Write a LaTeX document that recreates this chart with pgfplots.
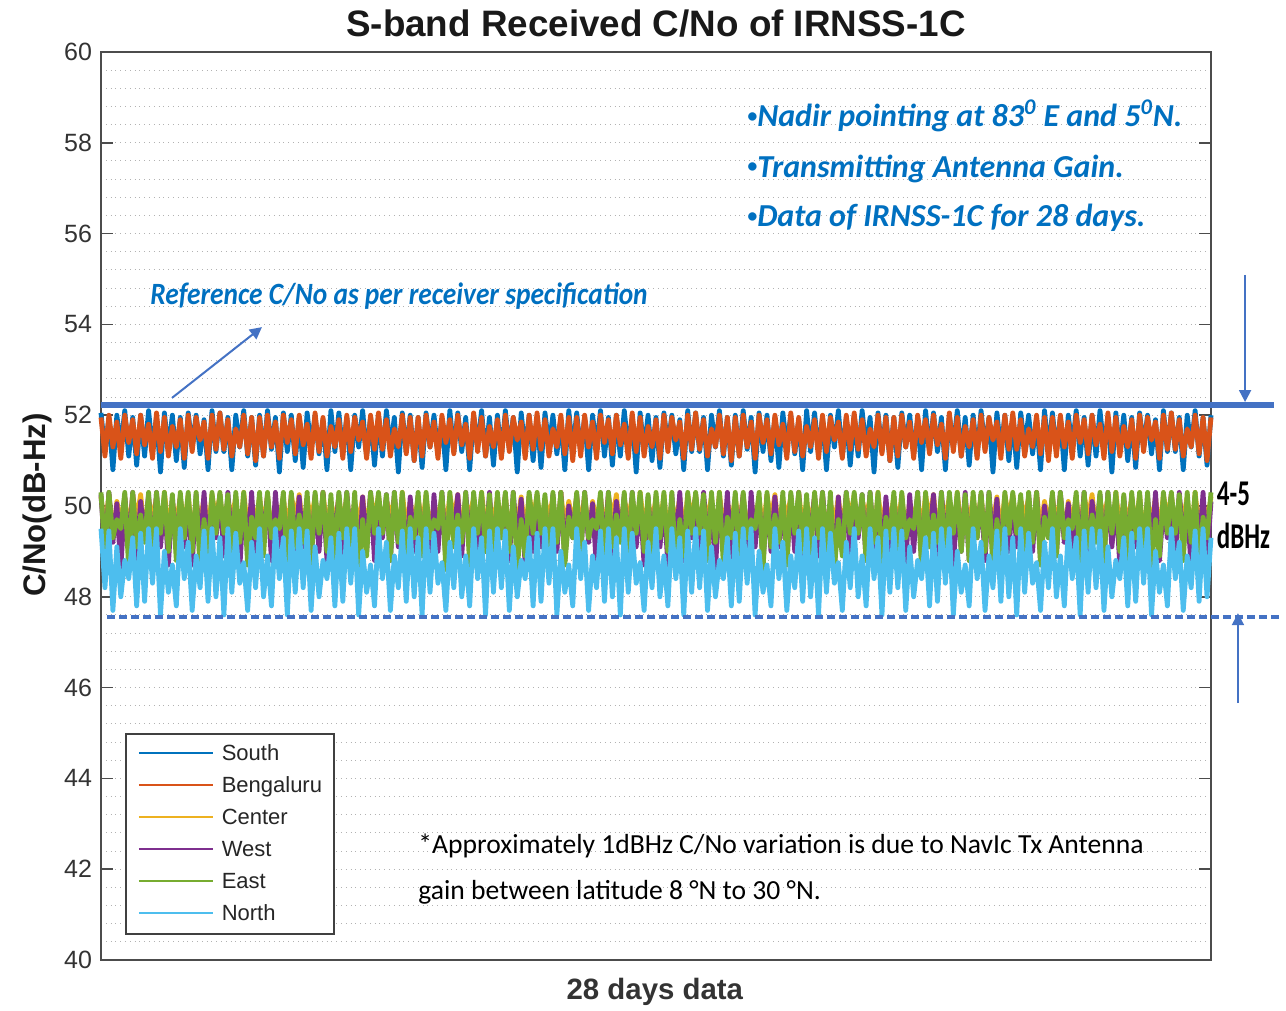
\documentclass[border=0pt]{standalone}
\usepackage{fontspec}
\setmainfont{Liberation Sans}
\newfontfamily\calibri{Carlito}
\usepackage{graphicx}
\usepackage{pgfplots}
\pgfplotsset{compat=1.18}
\usepackage{pgfplotstable}
\usetikzlibrary{arrows.meta}
\definecolor{cS}{HTML}{0072BD}
\definecolor{cB}{HTML}{D95319}
\definecolor{cC}{HTML}{EDB120}
\definecolor{cW}{HTML}{7E2F8E}
\definecolor{cE}{HTML}{77AC30}
\definecolor{cN}{HTML}{4DBEEE}
\definecolor{annblue}{HTML}{0070C0}
\definecolor{arrblue}{HTML}{4472C4}
\newcommand{\sbul}{\raisebox{0.13em}{\scalebox{0.62}{•}}}

\pgfplotstableread{
i S B C W E N
0 52.05 51.95 50.2 50.25 50.3 49.5
1 51.2 51.1 49.5 48.9 48.9 48.2
2 51.95 52.0 50.25 50.3 50.3 49.45
3 50.8 51.3 49.3 49.2 49.3 47.7
4 52.0 51.85 50.1 50.05 49.7 49.1
5 51.3 51.05 49.6 48.6 49.5 48.0
6 52.1 52.0 50.2 50.2 50.3 48.8
7 51.1 51.4 49.4 49.0 48.6 48.4
8 51.95 51.9 50.25 50.3 50.3 49.3
9 50.9 51.15 49.7 48.8 49.1 47.8
10 52.0 52.0 50.25 50.1 49.8 49.4
11 51.1 51.35 49.4 49.3 49.2 47.9
12 52.1 51.8 50.15 50.25 50.3 49.5
13 51.25 51.05 49.7 48.8 48.7 48.3
14 51.95 52.05 50.2 50.3 50.3 49.5
15 50.75 51.2 49.2 49.1 49.4 47.6
16 52.05 51.95 50.3 50.15 50.3 49.0
17 51.2 51.1 49.5 48.7 49.0 48.1
18 52.0 51.75 50.1 50.2 50.25 48.7
19 51.0 51.3 49.6 49.0 48.8 47.8
20 51.95 51.9 50.2 50.2 50.3 49.5
21 50.85 51.05 49.5 49.1 49.3 48.4
22 52.05 52.0 50.25 50.1 50.3 49.2
23 51.3 51.2 49.3 48.7 49.0 47.7
24 52.0 51.95 50.1 50.25 50.3 48.9
25 51.15 51.45 49.6 49.0 48.6 48.2
26 51.9 51.85 50.2 50.3 49.7 49.45
27 50.8 51.05 49.4 48.8 48.9 47.9
28 52.1 52.0 50.25 50.0 50.3 49.5
29 51.2 51.25 49.7 49.3 49.4 48.0
30 52.05 52.05 50.25 50.25 50.3 49.3
31 51.2 51.25 49.4 48.9 49.4 47.6
32 51.95 51.9 50.15 50.3 50.25 49.5
33 50.8 51.1 49.7 49.2 48.8 48.1
34 52.0 51.7 50.2 50.05 50.3 49.4
35 51.3 51.3 49.2 48.6 49.2 48.3
36 52.1 52.0 50.3 50.2 50.3 48.75
37 51.1 51.15 49.5 49.0 48.7 47.7
38 51.95 51.95 50.1 50.3 49.75 49.2
39 50.9 51.0 49.6 48.8 49.3 48.2
40 52.0 51.95 50.2 50.1 50.3 49.5
41 51.1 51.1 49.5 49.3 48.9 48.0
42 52.1 52.0 50.25 50.25 50.3 48.9
43 51.25 51.3 49.3 48.8 49.3 47.8
44 51.95 51.85 50.1 50.3 49.7 49.5
45 50.75 51.05 49.6 49.1 49.5 48.4
46 52.05 52.0 50.2 50.15 50.3 49.3
47 51.2 51.4 49.4 48.7 48.6 47.6
48 52.0 51.9 50.25 50.2 50.3 49.45
49 51.0 51.15 49.7 49.0 49.1 48.1
50 51.95 52.0 50.25 50.2 49.8 49.5
51 50.85 51.35 49.4 49.1 49.2 48.2
52 52.05 51.8 50.15 50.1 50.3 49.45
53 51.3 51.05 49.7 48.7 48.7 47.7
54 52.0 52.05 50.2 50.25 50.3 49.1
55 51.15 51.2 49.2 49.0 49.4 48.0
56 51.9 51.95 50.3 50.3 50.3 48.8
57 50.8 51.1 49.5 48.8 49.0 48.4
58 52.1 51.75 50.1 50.0 50.25 49.3
59 51.2 51.3 49.6 49.3 48.8 47.8
60 52.05 51.9 50.2 50.25 50.3 49.4
61 51.2 51.05 49.5 48.9 49.3 47.9
62 51.95 52.0 50.25 50.3 50.3 49.5
63 50.8 51.2 49.3 49.2 49.0 48.3
64 52.0 51.95 50.1 50.05 50.3 49.5
65 51.3 51.45 49.6 48.6 48.6 47.6
66 52.1 51.85 50.2 50.2 49.7 49.0
67 51.1 51.05 49.4 49.0 48.9 48.1
68 51.95 52.0 50.25 50.3 50.3 48.7
69 50.9 51.25 49.7 48.8 49.4 47.8
70 52.0 52.05 50.25 50.1 50.3 49.5
71 51.1 51.25 49.4 49.3 49.4 48.4
72 52.1 51.9 50.15 50.25 50.25 49.2
73 51.25 51.1 49.7 48.8 48.8 47.7
74 51.95 51.7 50.2 50.3 50.3 48.9
75 50.75 51.3 49.2 49.1 49.2 48.2
76 52.05 52.0 50.3 50.15 50.3 49.45
77 51.2 51.15 49.5 48.7 48.7 47.9
78 52.0 51.95 50.1 50.2 49.75 49.5
79 51.0 51.0 49.6 49.0 49.3 48.0
80 51.95 51.95 50.2 50.2 50.3 49.3
81 50.85 51.1 49.5 49.1 48.9 47.6
82 52.05 52.0 50.25 50.1 50.3 49.5
83 51.3 51.3 49.3 48.7 49.3 48.1
84 52.0 51.85 50.1 50.25 49.7 49.4
85 51.15 51.05 49.6 49.0 49.5 48.3
86 51.9 52.0 50.2 50.3 50.3 48.75
87 50.8 51.4 49.4 48.8 48.6 47.7
88 52.1 51.9 50.25 50.0 50.3 49.2
89 51.2 51.15 49.7 49.3 49.1 48.2
90 52.05 52.0 50.25 50.25 49.8 49.5
91 51.2 51.35 49.4 48.9 49.2 48.0
92 51.95 51.8 50.15 50.3 50.3 48.9
93 50.8 51.05 49.7 49.2 48.7 47.8
94 52.0 52.05 50.2 50.05 50.3 49.5
95 51.3 51.2 49.2 48.6 49.4 48.4
96 52.1 51.95 50.3 50.2 50.3 49.3
97 51.1 51.1 49.5 49.0 49.0 47.6
98 51.95 51.75 50.1 50.3 50.25 49.45
99 50.9 51.3 49.6 48.8 48.8 48.1
100 52.0 51.9 50.2 50.1 50.3 49.5
101 51.1 51.05 49.5 49.3 49.3 48.2
102 52.1 52.0 50.25 50.25 50.3 49.45
103 51.25 51.2 49.3 48.8 49.0 47.7
104 51.95 51.95 50.1 50.3 50.3 49.1
105 50.75 51.45 49.6 49.1 48.6 48.0
106 52.05 51.85 50.2 50.15 49.7 48.8
107 51.2 51.05 49.4 48.7 48.9 48.4
108 52.0 52.0 50.25 50.2 50.3 49.3
109 51.0 51.25 49.7 49.0 49.4 47.8
110 51.95 52.05 50.25 50.2 50.3 49.4
111 50.85 51.25 49.4 49.1 49.4 47.9
112 52.05 51.9 50.15 50.1 50.25 49.5
113 51.3 51.1 49.7 48.7 48.8 48.3
114 52.0 51.7 50.2 50.25 50.3 49.5
115 51.15 51.3 49.2 49.0 49.2 47.6
116 51.9 52.0 50.3 50.3 50.3 49.0
117 50.8 51.15 49.5 48.8 48.7 48.1
118 52.1 51.95 50.1 50.0 49.75 48.7
119 51.2 51.0 49.6 49.3 49.3 47.8
120 52.05 51.95 50.2 50.25 50.3 49.5
121 51.2 51.1 49.5 48.9 48.9 48.4
122 51.95 52.0 50.25 50.3 50.3 49.2
123 50.8 51.3 49.3 49.2 49.3 47.7
124 52.0 51.85 50.1 50.05 49.7 48.9
125 51.3 51.05 49.6 48.6 49.5 48.2
126 52.1 52.0 50.2 50.2 50.3 49.45
127 51.1 51.4 49.4 49.0 48.6 47.9
128 51.95 51.9 50.25 50.3 50.3 49.5
129 50.9 51.15 49.7 48.8 49.1 48.0
130 52.0 52.0 50.25 50.1 49.8 49.3
131 51.1 51.35 49.4 49.3 49.2 47.6
132 52.1 51.8 50.15 50.25 50.3 49.5
133 51.25 51.05 49.7 48.8 48.7 48.1
134 51.95 52.05 50.2 50.3 50.3 49.4
135 50.75 51.2 49.2 49.1 49.4 48.3
136 52.05 51.95 50.3 50.15 50.3 48.75
137 51.2 51.1 49.5 48.7 49.0 47.7
138 52.0 51.75 50.1 50.2 50.25 49.2
139 51.0 51.3 49.6 49.0 48.8 48.2
140 51.95 51.9 50.2 50.2 50.3 49.5
141 50.85 51.05 49.5 49.1 49.3 48.0
142 52.05 52.0 50.25 50.1 50.3 48.9
143 51.3 51.2 49.3 48.7 49.0 47.8
144 52.0 51.95 50.1 50.25 50.3 49.5
145 51.15 51.45 49.6 49.0 48.6 48.4
146 51.9 51.85 50.2 50.3 49.7 49.3
147 50.8 51.05 49.4 48.8 48.9 47.6
148 52.1 52.0 50.25 50.0 50.3 49.45
149 51.2 51.25 49.7 49.3 49.4 48.1
150 52.05 52.05 50.25 50.25 50.3 49.5
151 51.2 51.25 49.4 48.9 49.4 48.2
152 51.95 51.9 50.15 50.3 50.25 49.45
153 50.8 51.1 49.7 49.2 48.8 47.7
154 52.0 51.7 50.2 50.05 50.3 49.1
155 51.3 51.3 49.2 48.6 49.2 48.0
156 52.1 52.0 50.3 50.2 50.3 48.8
157 51.1 51.15 49.5 49.0 48.7 48.4
158 51.95 51.95 50.1 50.3 49.75 49.3
159 50.9 51.0 49.6 48.8 49.3 47.8
160 52.0 51.95 50.2 50.1 50.3 49.4
161 51.1 51.1 49.5 49.3 48.9 47.9
162 52.1 52.0 50.25 50.25 50.3 49.5
163 51.25 51.3 49.3 48.8 49.3 48.3
164 51.95 51.85 50.1 50.3 49.7 49.5
165 50.75 51.05 49.6 49.1 49.5 47.6
166 52.05 52.0 50.2 50.15 50.3 49.0
167 51.2 51.4 49.4 48.7 48.6 48.1
168 52.0 51.9 50.25 50.2 50.3 48.7
169 51.0 51.15 49.7 49.0 49.1 47.8
170 51.95 52.0 50.25 50.2 49.8 49.5
171 50.85 51.35 49.4 49.1 49.2 48.4
172 52.05 51.8 50.15 50.1 50.3 49.2
173 51.3 51.05 49.7 48.7 48.7 47.7
174 52.0 52.05 50.2 50.25 50.3 48.9
175 51.15 51.2 49.2 49.0 49.4 48.2
176 51.9 51.95 50.3 50.3 50.3 49.45
177 50.8 51.1 49.5 48.8 49.0 47.9
178 52.1 51.75 50.1 50.0 50.25 49.5
179 51.2 51.3 49.6 49.3 48.8 48.0
180 52.05 51.9 50.2 50.25 50.3 49.3
181 51.2 51.05 49.5 48.9 49.3 47.6
182 51.95 52.0 50.25 50.3 50.3 49.5
183 50.8 51.2 49.3 49.2 49.0 48.1
184 52.0 51.95 50.1 50.05 50.3 49.4
185 51.3 51.45 49.6 48.6 48.6 48.3
186 52.1 51.85 50.2 50.2 49.7 48.75
187 51.1 51.05 49.4 49.0 48.9 47.7
188 51.95 52.0 50.25 50.3 50.3 49.2
189 50.9 51.25 49.7 48.8 49.4 48.2
190 52.0 52.05 50.25 50.1 50.3 49.5
191 51.1 51.25 49.4 49.3 49.4 48.0
192 52.1 51.9 50.15 50.25 50.25 48.9
193 51.25 51.1 49.7 48.8 48.8 47.8
194 51.95 51.7 50.2 50.3 50.3 49.5
195 50.75 51.3 49.2 49.1 49.2 48.4
196 52.05 52.0 50.3 50.15 50.3 49.3
197 51.2 51.15 49.5 48.7 48.7 47.6
198 52.0 51.95 50.1 50.2 49.75 49.45
199 51.0 51.0 49.6 49.0 49.3 48.1
200 51.95 51.95 50.2 50.2 50.3 49.5
201 50.85 51.1 49.5 49.1 48.9 48.2
202 52.05 52.0 50.25 50.1 50.3 49.45
203 51.3 51.3 49.3 48.7 49.3 47.7
204 52.0 51.85 50.1 50.25 49.7 49.1
205 51.15 51.05 49.6 49.0 49.5 48.0
206 51.9 52.0 50.2 50.3 50.3 48.8
207 50.8 51.4 49.4 48.8 48.6 48.4
208 52.1 51.9 50.25 50.0 50.3 49.3
209 51.2 51.15 49.7 49.3 49.1 47.8
210 52.05 52.0 50.25 50.25 49.8 49.4
211 51.2 51.35 49.4 48.9 49.2 47.9
212 51.95 51.8 50.15 50.3 50.3 49.5
213 50.8 51.05 49.7 49.2 48.7 48.3
214 52.0 52.05 50.2 50.05 50.3 49.5
215 51.3 51.2 49.2 48.6 49.4 47.6
216 52.1 51.95 50.3 50.2 50.3 49.0
217 51.1 51.1 49.5 49.0 49.0 48.1
218 51.95 51.75 50.1 50.3 50.25 48.7
219 50.9 51.3 49.6 48.8 48.8 47.8
220 52.0 51.9 50.2 50.1 50.3 49.5
221 51.1 51.05 49.5 49.3 49.3 48.4
222 52.1 52.0 50.25 50.25 50.3 49.2
223 51.25 51.2 49.3 48.8 49.0 47.7
224 51.95 51.95 50.1 50.3 50.3 48.9
225 50.75 51.45 49.6 49.1 48.6 48.2
226 52.05 51.85 50.2 50.15 49.7 49.45
227 51.2 51.05 49.4 48.7 48.9 47.9
228 52.0 52.0 50.25 50.2 50.3 49.5
229 51.0 51.25 49.7 49.0 49.4 48.0
230 51.95 52.05 50.25 50.2 50.3 49.3
231 50.85 51.25 49.4 49.1 49.4 47.6
232 52.05 51.9 50.15 50.1 50.25 49.5
233 51.3 51.1 49.7 48.7 48.8 48.1
234 52.0 51.7 50.2 50.25 50.3 49.4
235 51.15 51.3 49.2 49.0 49.2 48.3
236 51.9 52.0 50.3 50.3 50.3 48.75
237 50.8 51.15 49.5 48.8 48.7 47.7
238 52.1 51.95 50.1 50.0 49.75 49.2
239 51.2 51.0 49.6 49.3 49.3 48.2
240 52.05 51.95 50.2 50.25 50.3 49.5
241 51.2 51.1 49.5 48.9 48.9 48.0
242 51.95 52.0 50.25 50.3 50.3 48.9
243 50.8 51.3 49.3 49.2 49.3 47.8
244 52.0 51.85 50.1 50.05 49.7 49.5
245 51.3 51.05 49.6 48.6 49.5 48.4
246 52.1 52.0 50.2 50.2 50.3 49.3
247 51.1 51.4 49.4 49.0 48.6 47.6
248 51.95 51.9 50.25 50.3 50.3 49.45
249 50.9 51.15 49.7 48.8 49.1 48.1
250 52.0 52.0 50.25 50.1 49.8 49.5
251 51.1 51.35 49.4 49.3 49.2 48.2
252 52.1 51.8 50.15 50.25 50.3 49.45
253 51.25 51.05 49.7 48.8 48.7 47.7
254 51.95 52.05 50.2 50.3 50.3 49.1
255 50.75 51.2 49.2 49.1 49.4 48.0
256 52.05 51.95 50.3 50.15 50.3 48.8
257 51.2 51.1 49.5 48.7 49.0 48.4
258 52.0 51.75 50.1 50.2 50.25 49.3
259 51.0 51.3 49.6 49.0 48.8 47.8
260 51.95 51.9 50.2 50.2 50.3 49.4
261 50.85 51.05 49.5 49.1 49.3 47.9
262 52.05 52.0 50.25 50.1 50.3 49.5
263 51.3 51.2 49.3 48.7 49.0 48.3
264 52.0 51.95 50.1 50.25 50.3 49.5
265 51.15 51.45 49.6 49.0 48.6 47.6
266 51.9 51.85 50.2 50.3 49.7 49.0
267 50.8 51.05 49.4 48.8 48.9 48.1
268 52.1 52.0 50.25 50.0 50.3 48.7
269 51.2 51.25 49.7 49.3 49.4 47.8
270 52.05 52.05 50.25 50.25 50.3 49.5
271 51.2 51.25 49.4 48.9 49.4 48.4
272 51.95 51.9 50.15 50.3 50.25 49.2
273 50.8 51.1 49.7 49.2 48.8 47.7
274 52.0 51.7 50.2 50.05 50.3 48.9
275 51.3 51.3 49.2 48.6 49.2 48.2
276 52.1 52.0 50.3 50.2 50.3 49.45
277 51.1 51.15 49.5 49.0 48.7 47.9
278 51.95 51.95 50.1 50.3 49.75 49.5
279 50.9 51.0 49.6 48.8 49.3 48.0
280 52.0 51.95 50.2 50.1 50.3 49.3
}\cnodata

\begin{document}
\begin{tikzpicture}
\useasboundingbox (-50.5pt,-25.5pt) rectangle (592.5pt,480pt);
\begin{axis}[
  at={(0pt,0pt)}, anchor=south west,
  scale only axis, width=555pt, height=454pt,
  xmin=0, xmax=280, ymin=40, ymax=60,
  xtick=\empty,
  ytick={40,42,...,60},
  minor y tick num=4,
  ymajorgrids, yminorgrids,
  major grid style={dotted, black!30, line width=0.5pt},
  minor grid style={dotted, black!30, line width=0.5pt},
  major tick length=6pt, minor tick length=0pt,
  tick style={black!70, line width=0.8pt},
  axis line style={black!70, line width=0.8pt},
  yticklabel style={font=\fontsize{12.5}{14}\selectfont, text=black!80, xshift=-1pt},
  /pgf/number format/assume math mode=true,
  clip=false,
  legend cell align=left,
  legend style={at={(axis description cs:0.0216,0.0275)}, anchor=south west,
    draw=black!75, line width=0.8pt, fill=white,
    font=\fontsize{11}{13}\selectfont, text=black!85,
    inner xsep=6pt, inner ysep=5pt, row sep=6pt, column sep=4pt,
    nodes={inner sep=0pt, text height=8pt, text depth=2pt}},
  legend image code/.code={\draw[#1, line width=1pt] (0pt,0.5pt) -- (37pt,0.5pt);},
  every axis plot/.append style={line width=2.4pt, line join=round},
]
\addplot[cS] table[x=i, y=S] {\cnodata};
\addplot[cB] table[x=i, y=B] {\cnodata};
\addplot[cC] table[x=i, y=C] {\cnodata};
\addplot[cW] table[x=i, y=W] {\cnodata};
\addplot[cE] table[x=i, y=E] {\cnodata};
\addplot[cN] table[x=i, y=N] {\cnodata};
\legend{South, Bengaluru, Center, West, East, North}

\addplot[arrblue, line width=3pt, forget plot] coordinates {(0,52.22) (296,52.22)};
\addplot[arrblue, line width=1.8pt, dash pattern=on 4pt off 2pt, forget plot] coordinates {(1.5,47.56) (297.5,47.56)};

\draw[arrblue, line width=1pt, -{Triangle[length=6pt,width=6pt]}] (axis cs:17.9,52.38) -- (axis cs:40.6,53.94);
\draw[arrblue, line width=1pt, -{Triangle[length=6pt,width=6pt]}] (axis cs:288.6,55.09) -- (axis cs:288.6,52.29);
\draw[arrblue, line width=1pt, -{Triangle[length=6pt,width=6pt]}] (axis cs:286.8,45.66) -- (axis cs:286.8,47.64);

\node[anchor=base, font=\bfseries\fontsize{18.4}{20}\selectfont, text=black!90] at (axis description cs:0.5,1.0176) {S-band Received C/No of IRNSS-1C};
\node[anchor=base, font=\bfseries\fontsize{14.7}{16}\selectfont, text=black!80] at (axis description cs:0.499,-0.044) {28 days data};
\node[rotate=90, anchor=center, font=\bfseries\fontsize{15.6}{17}\selectfont, text=black!90] at (axis description cs:-0.0577,0.501) {C/No(dB-Hz)};

\node[anchor=base west, font=\calibri\bfseries\itshape\fontsize{16}{18}\selectfont, text=annblue, inner sep=0pt] at (axis description cs:0.582,0.9174) {\sbul Nadir pointing at 83\textsuperscript{0} E and 5\textsuperscript{0}N.};
\node[anchor=base west, font=\calibri\bfseries\itshape\fontsize{16}{18}\selectfont, text=annblue, inner sep=0pt] at (axis description cs:0.582,0.8623) {\sbul Transmitting Antenna Gain.};
\node[anchor=base west, font=\calibri\bfseries\itshape\fontsize{16}{18}\selectfont, text=annblue, inner sep=0pt] at (axis description cs:0.582,0.8073) {\sbul Data of IRNSS-1C for 28 days.};
\node[anchor=base west, font=\calibri\bfseries\itshape\fontsize{13.7}{15}\selectfont, text=annblue, inner sep=0pt] at (axis description cs:0.0441,0.7214) {\scalebox{1}[1.13]{Reference C/No as per receiver specification}};

\node[anchor=base west, font=\calibri\bfseries\fontsize{12.5}{14}\selectfont, text=black, inner sep=0pt] at (axis description cs:1.005,0.501) {\scalebox{1}[1.45]{4-5}};
\node[anchor=base west, font=\calibri\bfseries\fontsize{12.5}{14}\selectfont, text=black, inner sep=0pt] at (axis description cs:1.005,0.4537) {\scalebox{1}[1.45]{dBHz}};

\node[anchor=base west, font=\calibri\fontsize{13.8}{15}\selectfont, text=black, inner sep=0pt] at (axis description cs:0.2856,0.1178) {*Approximately 1dBHz C/No variation is due to NavIc Tx Antenna};
\node[anchor=base west, font=\calibri\fontsize{13.8}{15}\selectfont, text=black, inner sep=0pt] at (axis description cs:0.2856,0.0661) {gain between latitude 8 °N to 30 °N.};
\end{axis}
\end{tikzpicture}
\end{document}
